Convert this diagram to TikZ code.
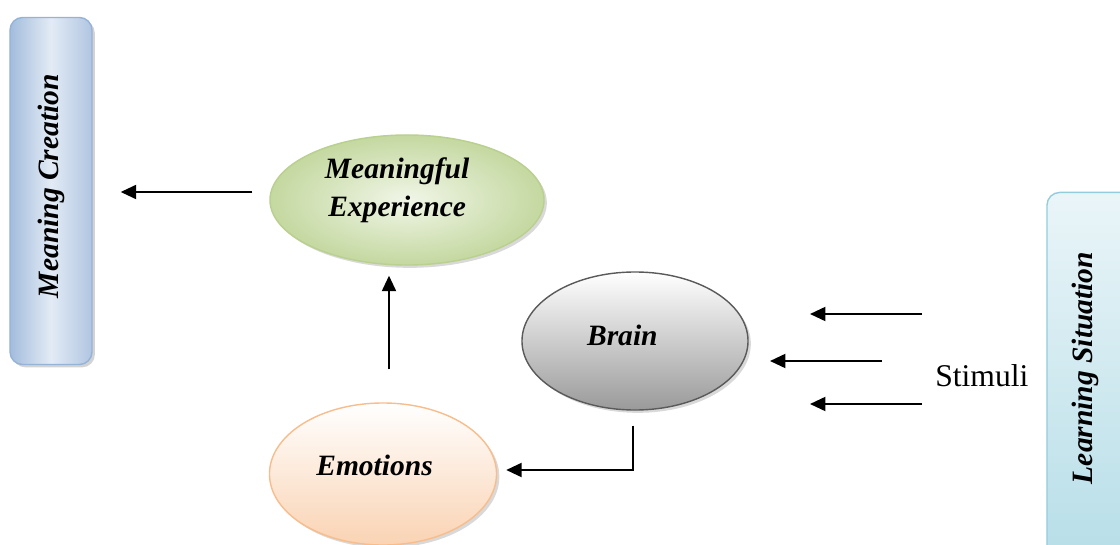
\documentclass[tikz,border=0pt]{standalone}
\usepackage{fontspec}
\setmainfont{Liberation Serif}
\usetikzlibrary{calc}
\usetikzlibrary{arrows.meta}
\usetikzlibrary{shapes.geometric}
\usetikzlibrary{shadows}
\usepackage{xcolor}

\definecolor{mcBorder}{HTML}{95B3D7}
\definecolor{mcDark}{HTML}{A3BCDD}
\definecolor{mcLight}{HTML}{E3EBF5}
\definecolor{lsBorder}{HTML}{93CDDD}
\definecolor{lsTop}{HTML}{EAF5F8}
\definecolor{lsBot}{HTML}{B7DEE8}
\definecolor{meBorder}{HTML}{B9D08F}
\definecolor{meTop}{HTML}{F1F6E8}
\definecolor{meBot}{HTML}{C4D8A0}
\definecolor{brBorder}{HTML}{5A5A5A}
\definecolor{brBot}{HTML}{9A9A9A}
\definecolor{emBorder}{HTML}{F8BD8C}
\definecolor{emBot}{HTML}{FAD3B3}

\tikzset{
  box/.style={draw, line width=1pt, rounded corners=9pt, inner sep=0pt,
    drop shadow={shadow xshift=2pt, shadow yshift=-2pt, opacity=.35}},
  blob/.style={ellipse, draw, line width=1pt, inner sep=0pt,
    drop shadow={shadow xshift=2pt, shadow yshift=-2pt, opacity=.3}},
  lbl/.style={font=\fontsize{21}{27}\selectfont\bfseries\itshape, align=center, inner sep=0pt},
  arr/.style={line width=1.4pt, -{Triangle[length=11pt,width=10pt]}}
}

\begin{document}
\begin{tikzpicture}[x=0.025cm, y=-0.025cm]
\useasboundingbox (0,0) rectangle (1120,545);
\clip (0,0) rectangle (1120,545);

% side boxes
\node[box, draw=mcBorder, left color=mcDark, right color=mcDark!80!mcLight, middle color=mcLight,
  minimum width=2.05cm, minimum height=8.675cm,
  label={[lbl, name=mcretxt, rotate=90, xshift=3.5pt]center:{Meaning Creation}}] (mcre) at (51,191) {};
\node[box, draw=lsBorder, top color=lsTop, bottom color=lsBot,
  minimum width=2.15cm, minimum height=9.175cm,
  label={[lbl, name=lssittxt, rotate=90, xshift=5.7pt, yshift=3.5pt]center:{Learning Situation}}] (lssit) at (1090,376) {};

% ellipses
\node[blob, draw=meBorder, shading=radial, inner color=meTop, outer color=meBot,
  minimum width=6.85cm, minimum height=3.25cm,
  label={[lbl, name=mexptxt, xshift=-7pt, yshift=7pt]center:{Meaningful\\Experience}}] (mexp) at (407,200) {};
\node[blob, draw=brBorder, top color=white, bottom color=brBot,
  minimum width=5.65cm, minimum height=3.45cm,
  label={[lbl, name=braintxt, xshift=-9pt, yshift=4pt]center:{Brain}}] (brain) at (635,341) {};
\node[blob, draw=emBorder, top color=white, bottom color=emBot,
  minimum width=5.675cm, minimum height=3.55cm,
  label={[lbl, name=emotxt, xshift=-6pt, yshift=6pt]center:{Emotions}}] (emo) at (383,474) {};

\node[anchor=base west, inner sep=0pt, font=\fontsize{22.5}{26}\selectfont] (stim) at (935,386) {Stimuli};

% connectors
\draw[arr] ($(mexp.west)+(-17,-8)$) -- ($(mcre.east)+(28,1)$);
\draw[arr] ($(emo.north)+(6,-33)$) -- ($(mexp.south)+(-18,10)$);
\draw[arr] ($(brain.south)+(-2,15)$) |- ($(emo.east)+(9,-4)$);
\foreach \dx/\dy in {-13/-72, -53/-25, -13/18}
  \draw[arr] ($(stim.base west)+(\dx,\dy)$) -- ++(-112,0);
\end{tikzpicture}
\end{document}
